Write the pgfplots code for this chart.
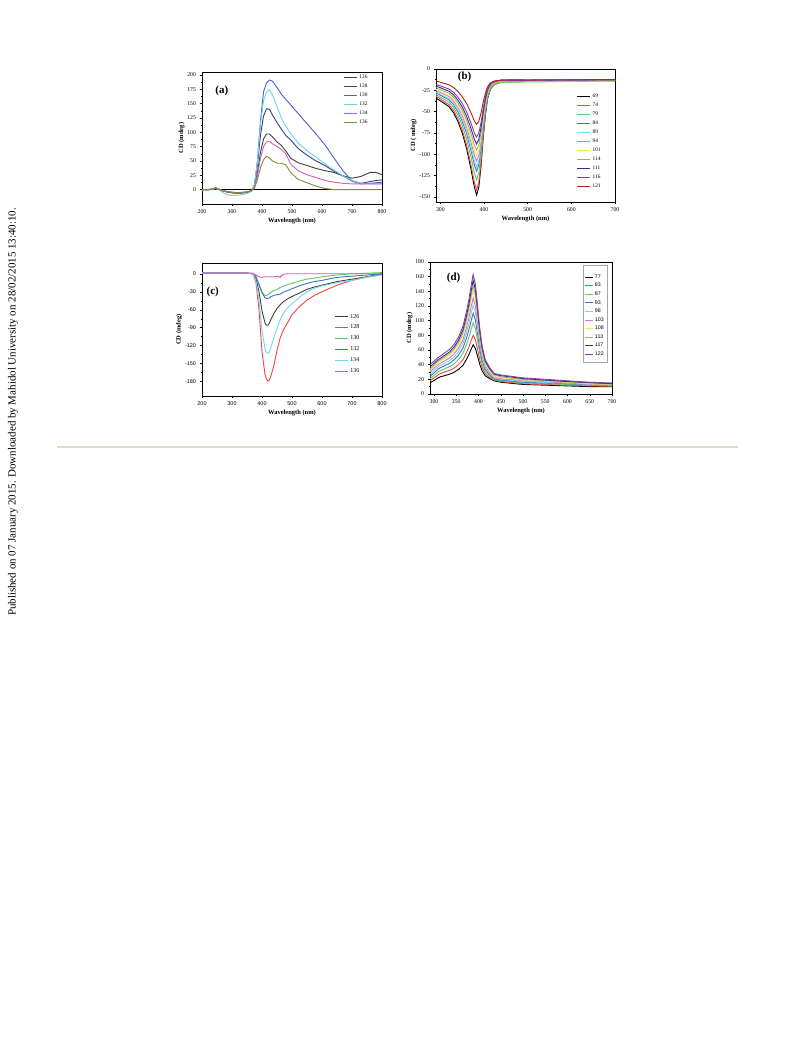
\documentclass[border=0pt]{standalone}
\usepackage{fontspec}
\setmainfont{Liberation Serif}
\newfontfamily\arialf{Liberation Sans}
\usepackage{pgfplots}
\pgfplotsset{compat=1.18}
\usepackage{pgfplotstable}

\definecolor{cA1}{HTML}{404040}
\definecolor{cA2}{HTML}{3C3A90}
\definecolor{cA3}{HTML}{4A62C0}
\definecolor{cA4}{HTML}{66D4EC}
\definecolor{cA5}{HTML}{D65CC0}
\definecolor{cA6}{HTML}{8A8A30}
\definecolor{cred}{HTML}{F04545}
\definecolor{cgreen}{HTML}{60C860}
\definecolor{cblue}{HTML}{4070C8}
\definecolor{ccyan}{HTML}{70D8F0}
\definecolor{cpink}{HTML}{E070D0}
\definecolor{cyel}{HTML}{F0F040}
\definecolor{colive}{HTML}{A8A878}
\definecolor{cnavy}{HTML}{303090}
\definecolor{cpurp}{HTML}{8040A0}
\definecolor{cdred}{HTML}{B02020}
\definecolor{rulec}{HTML}{DDDCCB}

% ---------- panel (a)
\pgfplotstableread{
x a126 a128 a130 a132 a134 a136
200 0 0 0 -2 0 0
220 0 0 0 -1 0 0
235 1 1 1 0 1 1
245 3 3 3 2 3 3
255 1 1 1 0 1 1
270 -2 -2 -2 -5 -2 -2
290 -4 -5 -5 -10 -4 -4
310 -5 -6 -6 -10 -5 -5
330 -5 -6 -6 -9 -5 -5
350 -4 -5 -5 -7 -4 -4
365 -2 -2 -2 -3 -2 -2
375 5 8 8 8 4 3
385 30 45 50 50 25 18
395 65 95 120 115 55 38
405 88 128 170 155 75 52
415 97 141 186 170 83 58
425 97 140 191 174 84 55
435 92 130 189 165 80 50
450 83 117 178 145 75 46
465 77 105 166 124 70 46
480 67 94 157 110 62 43
495 55 87 148 98 45 30
520 47 72 133 82 33 18
550 42 60 115 68 26 12
580 37 50 97 57 21 6
610 33 42 78 45 16 2
640 30 32 55 34 13 0
670 24 24 33 24 11 0
700 20 15 15 16 10 0
730 23 11 10 11 10 0
760 30 14 11 10 10 0
780 30 16 12 10 10 0
800 26 17 13 10 10 0
}\tabA

% ---------- panel (b)
\pgfplotstableread{
x b69 b74 b79 b84 b89 b94 b101 b114 b111 b116 b121
290 -34 -32 -30 -28 -27 -25 -24 -22 -20 -18 -14
300 -37.4 -35.3 -33 -30.8 -29.6 -27.5 -26.3 -24.2 -22 -19.9 -15.5
310 -40.8 -38.6 -36 -33.5 -32.3 -30 -28.7 -26.4 -24.1 -21.7 -17.1
320 -44.3 -41.9 -39 -36.3 -34.9 -32.5 -31 -28.6 -26.1 -23.6 -18.6
330 -51.1 -48.5 -45 -41.8 -40.2 -37.5 -35.7 -33 -30.2 -27.3 -21.7
340 -61.4 -58.4 -54 -50.1 -48.1 -44.9 -42.7 -39.5 -36.3 -32.9 -26.2
350 -75 -71.6 -66 -61.1 -58.7 -54.9 -52.1 -48.3 -44.5 -40.3 -32.4
360 -93.3 -89.2 -82 -75.8 -72.8 -68.2 -64.6 -60 -55.4 -50.2 -40.5
370 -117.2 -112.3 -103 -95.2 -91.2 -85.6 -80.9 -75.3 -69.6 -63.3 -51.2
378 -138.9 -133.2 -122 -112.6 -108 -101.4 -95.8 -89.2 -82.6 -75 -60.9
383 -148 -142 -130 -120 -115 -108 -102 -95 -88 -80 -65
388 -138.7 -133.1 -122 -112.6 -107.9 -101.4 -95.9 -89.4 -82.8 -75.3 -61.4
393 -114.8 -110.3 -101.5 -93.5 -89.8 -84.5 -80.3 -75 -69.3 -63.3 -52
398 -81.5 -78.5 -73 -67 -64.5 -61 -58.5 -55 -50.5 -46.5 -39
403 -54.9 -53.1 -50.2 -45.8 -44.3 -42.2 -41.1 -39 -35.5 -33.1 -28.6
408 -35 -34.1 -33.1 -29.9 -29.2 -28.1 -28.1 -27 -24.3 -23.1 -20.8
415 -23 -22.6 -22.8 -20.4 -20.1 -19.6 -20.2 -19.8 -17.5 -17 -16.1
425 -17.7 -17.5 -18.3 -16.1 -16 -15.9 -16.7 -16.6 -14.5 -14.3 -14
440 -15 -15 -16 -14 -14 -14 -15 -15 -13 -13 -13
470 -14.5 -14.8 -15.5 -14.2 -13.8 -14.3 -14.6 -14.8 -13.2 -12.8 -12.7
500 -14.2 -14.4 -15.2 -13.8 -14 -13.9 -14.8 -14.4 -12.9 -13.1 -12.9
550 -14 -14.2 -15 -13.9 -13.7 -14 -14.4 -14.2 -13 -12.8 -12.6
600 -13.8 -14 -14.6 -13.6 -13.8 -13.8 -14.2 -14 -12.8 -12.9 -12.7
650 -13.6 -13.8 -14.4 -13.5 -13.5 -13.6 -14 -13.8 -12.7 -12.6 -12.5
700 -13.5 -13.6 -14.2 -13.4 -13.4 -13.5 -13.8 -13.6 -12.6 -12.6 -12.4
}\tabB

% ---------- panel (c)
\pgfplotstableread{
x c126 c128 c130 c132 c134 c136
200 1 1 1 1 1 1
250 1 1 1 1 1 1
300 1 1 1 1 1 1
350 1 1 1 1 1 1
370 0 0 0 0 0 1
380 -8 -15 -5 -5 -12 -2
390 -30 -60 -18 -18 -45 -5
400 -62 -130 -30 -32 -95 -6
410 -82 -168 -36 -40 -125 -5
415 -86 -176 -36 -41 -132 -5
420 -86 -179 -35 -41 -133 -5
425 -82 -177 -33 -40 -130 -5
430 -76 -170 -31 -38 -122 -5
440 -66 -152 -28 -36 -106 -5
450 -58 -128 -26 -35 -91 -4
460 -52 -108 -23 -34 -78 -6
470 -47 -95 -21 -31 -67 -1
485 -42 -82 -18 -28 -57 0
500 -38 -68 -16 -25 -50 0
525 -32 -55 -12 -20 -39 0
550 -26 -44 -9 -16 -30 0
575 -22 -36 -7 -13 -24 0
600 -19 -30 -5 -11 -20 0
650 -13 -19 -2 -6 -15 0
700 -9 -11 0 -4 -11 0
750 -5 -5 1 -2 -6 0
800 0 -1 2 0 -2 0
}\tabC

% ---------- panel (d)
\pgfplotstableread{
x d77 d83 d87 d93 d98 d103 d108 d113 d117 d122
291 15 18 21 24 27 30 32 34 37 40
300 18.4 22 25.4 28.8 31.8 34.8 37.2 39.2 41.8 44.8
310 22.2 26.5 30.4 34.2 37.2 40.2 43 45 47.2 50.2
315 23.5 28 32 36 39 42 45 47 49 52
325 25.2 30.1 34.6 39 42.3 45.6 48.8 51 53.2 56.4
335 27 32.2 37.2 41.9 45.6 49.1 52.7 55.1 57.5 60.9
345 29.6 35.3 41.1 46.4 50.5 54.5 58.4 61.1 63.8 67.5
355 33.5 40 47 53 57.9 62.5 67.1 70.2 73.4 77.5
365 39.2 46.7 55.4 62.6 68.5 74 79.6 83.4 87.2 92
372 46.1 55 65.8 74.5 81.6 88.3 94.9 99.5 104.1 109.7
378 53.1 63.4 76.2 86.3 94.8 102.5 110.3 115.7 121.1 127.5
384 61.8 73.8 89.2 101.1 111.2 120.3 129.5 135.9 142.3 149.7
388 67 80 97 110 121 131 141 148 155 163
393 62.1 73.9 89.3 101.1 111.1 120.2 129.3 135.8 142.2 149.5
398 51.3 60.5 72.4 81.5 89.3 96.4 103.6 109 114 119.8
403 40.1 46.5 54.7 61 66.6 71.6 76.7 80.9 84.6 88.8
408 31.7 36.1 41.6 45.9 49.7 53.2 56.8 60.2 62.8 65.8
415 24.9 27.5 30.8 33.5 35.9 38.1 40.4 43.1 44.9 46.9
425 20.9 22.7 24.6 26.3 27.9 29.5 31 33.3 34.7 36.1
435 18 19 20 21 22 23 24 26 27 28
450 16 17 18 19 20 21 22 23.5 25 26
475 14.5 15.5 16.5 17.5 18.5 19.5 20.5 21.5 23 24
500 13 14 15 16 17 18 19 20 21 22
550 12 13 14 15 16 17 17.5 18 19 20
600 11 12 13 14 14.5 15 16 16.5 17 18
650 10 11 12 12.5 13 13.5 14 15 15.5 16
700 10 10.5 11 11.5 12 12.5 13 13.5 14 15
}\tabD

\pgfplotsset{
  panel/.style={
    scale only axis,
    axis line style={black, line width=0.5pt},
    tick align=outside,
    xtick pos=bottom, ytick pos=left,
    major tick length=2.5bp, minor tick length=1.5bp,
    tick style={black, line width=0.4pt},
    minor x tick num=1, minor y tick num=1,
    /pgf/number format/assume math mode=true,
    /pgf/number format/set thousands separator={},
    tick label style={font=\fontsize{5.8}{6}\selectfont},
    label style={font=\bfseries\fontsize{6.5}{7}\selectfont},
    xlabel={Wavelength (nm)},
    xlabel style={yshift=3bp},
    ylabel style={yshift=-4bp},
    legend cell align=left,
    legend style={draw=none, fill=none, font=\fontsize{5.4}{5.8}\selectfont, inner sep=1pt, row sep=0pt},
    legend image code/.code={\draw[##1, line width=0.9pt] (0bp,0bp) -- (13bp,0bp);},
    every axis plot/.append style={line width=0.9pt, mark=none},
  }
}

\begin{document}
\begin{tikzpicture}
\path[use as bounding box, fill=white] (0,0) rectangle (793bp,1039bp);

\node[rotate=90, font=\fontsize{11}{13}\selectfont, inner sep=0pt] at (13bp,627bp)
  {Published on 07 January 2015. Downloaded by Mahidol University on 28/02/2015 13:40:10.};

\draw[rulec, line width=2.6bp] (57bp,592bp) -- (738bp,592bp);

% ============ (a)
\begin{axis}[panel, at={(202bp,967bp)}, anchor=north west,
  width=180bp, height=132bp,
  xmin=200, xmax=800, ymin=-25, ymax=205,
  xtick={200,300,...,800}, ytick={0,25,...,200},
  ylabel={CD (mdeg)},
  legend style={at={(0.78,1.0)}, anchor=north west, row sep=0pt},
]
\addplot[black, line width=0.6pt, forget plot] coordinates {(200,0) (800,0)};
\addplot[cA1] table[x=x,y=a126]{\tabA}; \addlegendentry{126}
\addplot[cA2] table[x=x,y=a128]{\tabA}; \addlegendentry{128}
\addplot[cA3] table[x=x,y=a130]{\tabA}; \addlegendentry{130}
\addplot[cA4] table[x=x,y=a132]{\tabA}; \addlegendentry{132}
\addplot[cA5] table[x=x,y=a134]{\tabA}; \addlegendentry{134}
\addplot[cA6] table[x=x,y=a136]{\tabA}; \addlegendentry{136}
\node[font=\bfseries\fontsize{11}{12}\selectfont] at (rel axis cs:0.11,0.86) {(a)};
\end{axis}

% ============ (b)
\begin{axis}[panel, at={(436bp,970bp)}, anchor=north west,
  width=179bp, height=133bp,
  xmin=290, xmax=700, ymin=-156, ymax=0,
  xtick={300,400,...,700}, ytick={-150,-125,...,0},
  ylabel={CD ( mdeg)},
  legend style={at={(0.78,0.84)}, anchor=north west, row sep=0pt},
]
\addplot[black] table[x=x,y=b69]{\tabB}; \addlegendentry{69}
\addplot[cred] table[x=x,y=b74]{\tabB}; \addlegendentry{74}
\addplot[cgreen] table[x=x,y=b79]{\tabB}; \addlegendentry{79}
\addplot[cblue] table[x=x,y=b84]{\tabB}; \addlegendentry{84}
\addplot[ccyan] table[x=x,y=b89]{\tabB}; \addlegendentry{89}
\addplot[cpink] table[x=x,y=b94]{\tabB}; \addlegendentry{94}
\addplot[cyel] table[x=x,y=b101]{\tabB}; \addlegendentry{101}
\addplot[colive] table[x=x,y=b114]{\tabB}; \addlegendentry{114}
\addplot[cnavy] table[x=x,y=b111]{\tabB}; \addlegendentry{111}
\addplot[cpurp] table[x=x,y=b116]{\tabB}; \addlegendentry{116}
\addplot[cdred] table[x=x,y=b121]{\tabB}; \addlegendentry{121}
\node[font=\bfseries\fontsize{11}{12}\selectfont] at (rel axis cs:0.16,0.94) {(b)};
\end{axis}

% ============ (c)
\begin{axis}[panel, at={(202bp,776bp)}, anchor=north west,
  width=180bp, height=133bp,
  xmin=200, xmax=800, ymin=-204, ymax=18,
  xtick={200,300,...,800}, ytick={-180,-150,...,0},
  tick label style={font=\arialf\fontsize{5.5}{6}\selectfont},
  ylabel={CD (mdeg)},
  legend style={at={(0.73,0.64)}, anchor=north west, row sep=1.5pt, font=\fontsize{6}{6.5}\selectfont},
]
\addplot[cA1] table[x=x,y=c126]{\tabC}; \addlegendentry{126}
\addplot[cred] table[x=x,y=c128]{\tabC}; \addlegendentry{128}
\addplot[cgreen] table[x=x,y=c130]{\tabC}; \addlegendentry{130}
\addplot[cblue] table[x=x,y=c132]{\tabC}; \addlegendentry{132}
\addplot[ccyan] table[x=x,y=c134]{\tabC}; \addlegendentry{134}
\addplot[cA5] table[x=x,y=c136]{\tabC}; \addlegendentry{136}
\node[font=\bfseries\fontsize{11}{12}\selectfont] at (rel axis cs:0.06,0.78) {(c)};
\end{axis}

% ============ (d)
\begin{axis}[panel, at={(430bp,777bp)}, anchor=north west,
  width=182bp, height=132bp,
  xmin=291, xmax=700, ymin=0, ymax=180,
  xtick={300,350,...,700}, ytick={0,20,...,180},
  minor x tick num=0,
  ylabel={CD (mdeg)},
  legend style={at={(0.84,0.98)}, anchor=north west, draw=black!35, fill=white, row sep=-0.6pt, inner ysep=3pt, font=\arialf\fontsize{5.3}{5.6}\selectfont},
  legend image code/.code={\draw[#1, line width=0.9pt] (0bp,0bp) -- (8bp,0bp);},
]
\addlegendimage{empty legend}\addlegendentry{}
\addplot[black] table[x=x,y=d77]{\tabD}; \addlegendentry{77}
\addplot[cred] table[x=x,y=d83]{\tabD}; \addlegendentry{83}
\addplot[cgreen] table[x=x,y=d87]{\tabD}; \addlegendentry{87}
\addplot[cblue] table[x=x,y=d93]{\tabD}; \addlegendentry{93}
\addplot[ccyan] table[x=x,y=d98]{\tabD}; \addlegendentry{98}
\addplot[cpink] table[x=x,y=d103]{\tabD}; \addlegendentry{103}
\addplot[cyel] table[x=x,y=d108]{\tabD}; \addlegendentry{108}
\addplot[colive] table[x=x,y=d113]{\tabD}; \addlegendentry{113}
\addplot[cnavy] table[x=x,y=d117]{\tabD}; \addlegendentry{117}
\addplot[cpurp] table[x=x,y=d122]{\tabD}; \addlegendentry{122}
\node[font=\bfseries\fontsize{11}{12}\selectfont] at (rel axis cs:0.13,0.88) {(d)};
\end{axis}
\end{tikzpicture}
\end{document}
